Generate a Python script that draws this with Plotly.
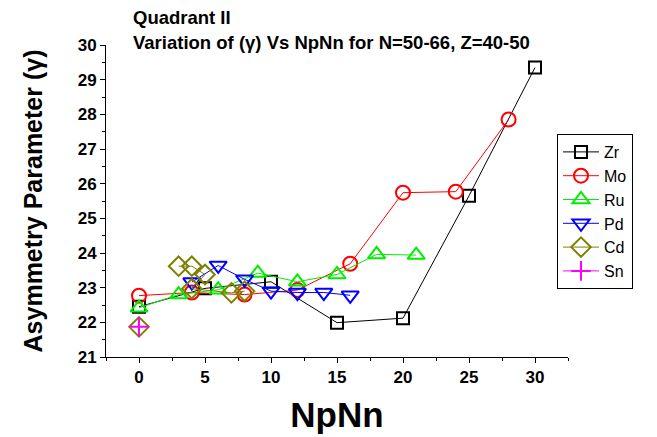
import plotly.graph_objects as go

zr_x = [0, 5, 10, 15, 20, 25, 30]
zr_y = [22.45, 22.98, 23.17, 21.99, 22.12, 25.65, 29.35]

mo_x = [0, 4, 8, 12, 16, 20, 24, 28]
mo_y = [22.77, 22.86, 22.8, 22.93, 23.69, 25.74, 25.77, 27.85]

ru_x = [0, 3, 6, 9, 12, 15, 18, 21]
ru_y = [22.42, 22.8, 22.94, 23.42, 23.17, 23.38, 23.96, 23.94]

pd_x = [4, 6, 8, 10, 12, 14, 16]
pd_y = [23.16, 23.64, 23.24, 22.9, 22.86, 22.86, 22.78]

cd_x = [0, None, 3, 4, 5, 4, 7, 8]
cd_y = [21.87, None, 23.62, 23.62, 23.38, 22.97, 22.85, 22.9]

sn_x = [0]
sn_y = [21.87]

FONT = "Liberation Sans"

series = [
    ("Zr", zr_x, zr_y, "black", "square-open", 12),
    ("Mo", mo_x, mo_y, "red", "circle-open", 14),
    ("Ru", ru_x, ru_y, "#00ee00", "triangle-up-open", 15),
    ("Pd", pd_x, pd_y, "blue", "triangle-down-open", 15),
    ("Cd", cd_x, cd_y, "#808000", "diamond-open", 15),
    ("Sn", sn_x, sn_y, "magenta", "cross-thin-open", 14),
]

fig = go.Figure()
for name, xs, ys, col, sym, sz in series:
    fig.add_trace(go.Scatter(
        x=xs, y=ys, name=name, mode="lines+markers",
        line=dict(color=col, width=1),
        marker=dict(symbol=sym, size=sz, color=col, line=dict(color=col, width=2)),
        connectgaps=False,
    ))

OFF = 8  # page body margin

fig.update_layout(
    width=657, height=437,
    margin=dict(l=106 - OFF, r=657 - 568 + OFF, t=45 - OFF, b=437 - 357 + OFF, autoexpand=False),
    plot_bgcolor="white", paper_bgcolor="white",
    font=dict(family=FONT, color="black"),
    showlegend=True,
    legend=dict(
        x=(557 - OFF)/657, y=1-(134 - OFF)/437, xref="container", yref="container",
        xanchor="left", yanchor="top",
        bordercolor="black", borderwidth=1, bgcolor="white",
        font=dict(family=FONT, size=16, color="black"),
        tracegroupgap=0, itemwidth=36,
    ),
    xaxis=dict(
        range=[-2.5, 32.5], dtick=5, tick0=0,
        showgrid=False, zeroline=False,
        showline=True, linecolor="black", linewidth=1,
        ticks="outside", ticklen=5, tickcolor="black",
        minor=dict(ticks="outside", ticklen=3, dtick=2.5, tick0=0, tickcolor="black", showgrid=False),
        tickfont=dict(family=FONT, size=17, color="black", weight="bold"),
        title=dict(text="<b>NpNn</b>", font=dict(family=FONT, size=35, color="black"), standoff=16),
    ),
    yaxis=dict(
        range=[21, 30], dtick=1,
        showgrid=False, zeroline=False,
        showline=True, linecolor="black", linewidth=1,
        ticks="outside", ticklen=5, tickcolor="black",
        minor=dict(ticks="outside", ticklen=3, dtick=0.5, tickcolor="black", showgrid=False),
        tickfont=dict(family=FONT, size=17, color="black", weight="bold"),
        title=dict(text="<b>Asymmetry Parameter (γ)</b>", font=dict(family=FONT, size=25, color="black"), standoff=27),
    ),
)

fig.add_annotation(text="<b>Quadrant II</b>", xref="paper", yref="paper",
                   x=(131-106)/462, y=1+(45-17)/312, xanchor="left", yanchor="middle",
                   showarrow=False, font=dict(family=FONT, size=18.5, color="black"))
fig.add_annotation(text="<b>Variation of (γ) Vs NpNn for N=50-66, Z=40-50</b>", xref="paper", yref="paper",
                   x=(131-106)/462, y=1+(45-42)/312, xanchor="left", yanchor="middle",
                   showarrow=False, font=dict(family=FONT, size=18.5, color="black"))

fig.write_html("out.html")
